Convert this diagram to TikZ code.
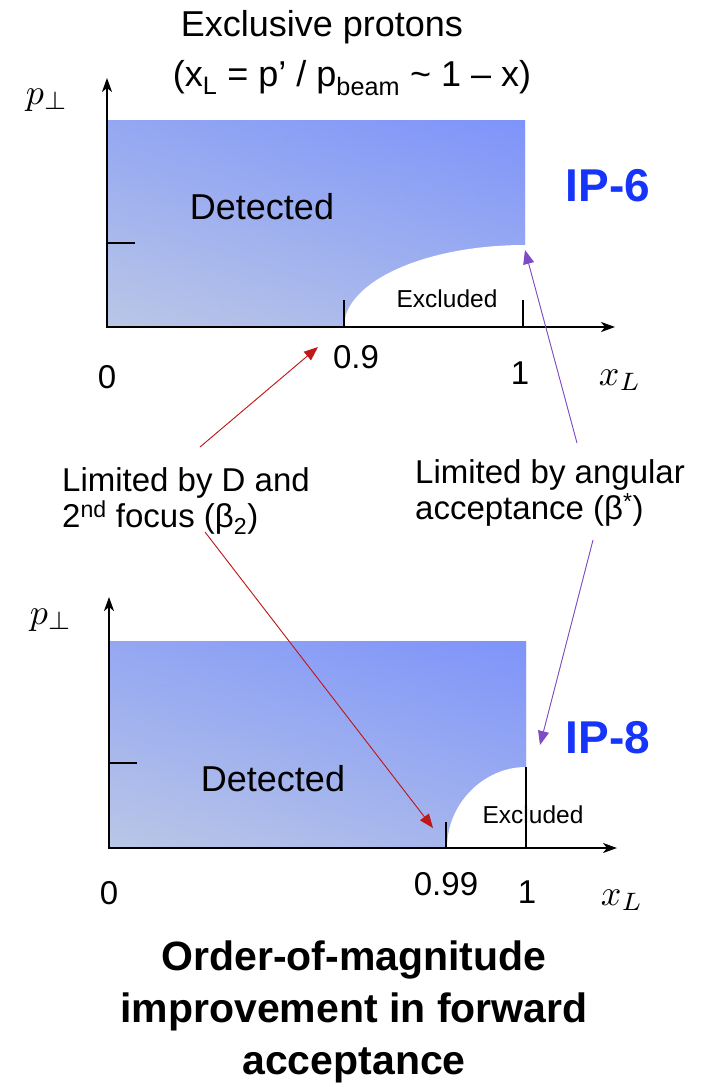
\documentclass[tikz,border=0pt]{standalone}
\usepackage{graphicx}
\usepackage{fontspec}
\setmainfont{Liberation Sans}
\usetikzlibrary{arrows.meta}
\definecolor{ipblue}{RGB}{22,52,250}
\definecolor{fillL}{RGB}{172,188,234}
\definecolor{fillR}{RGB}{126,148,250}
\definecolor{fillT}{RGB}{126,148,250}
\definecolor{fillBt}{RGB}{200,210,228}
\definecolor{redarrow}{RGB}{190,25,25}
\definecolor{purparrow}{RGB}{125,75,195}
\newcommand{\bigmath}[1]{\scalebox{3.6}{$#1$}}
\begin{document}
\begin{tikzpicture}[x=1pt,y=-1pt,
  axisline/.style={line width=2.2pt,-{Stealth[length=14pt,width=10pt,inset=4pt]}},
  tickline/.style={line width=2.8pt},
  regionh/.style={left color=fillL,right color=fillR},
  regionv/.style={top color=fillT,bottom color=fillBt,opacity=0.5},
  hole/.style={fill=white},
  lbl/.style={inner sep=0pt,font=\fontsize{33}{36}\selectfont},
  ttl/.style={inner sep=0pt,font=\fontsize{36}{40}\selectfont},
  num/.style={inner sep=0pt,font=\fontsize{33}{36}\selectfont},
  mth/.style={inner sep=0pt},
  det/.style={inner sep=0pt,font=\fontsize{36}{40}\selectfont},
  excl/.style={inner sep=0pt,font=\fontsize{24.5}{28}\selectfont},
  ip/.style={inner sep=0pt,text=ipblue,font=\fontsize{46}{50}\selectfont\bfseries},
  concl/.style={inner sep=0pt,align=center,font=\fontsize{41}{52}\selectfont\bfseries},
  redarr/.style={draw=redarrow,line width=0.9pt,-{Triangle[length=14pt,width=11pt]},fill=redarrow},
  purarr/.style={draw=purparrow,line width=0.9pt,-{Triangle[length=14pt,width=11pt]},fill=purparrow}
]
\useasboundingbox (0,0) rectangle (707,1087);

% ---------- top plot (IP-6) ----------
\shade[regionh] (107,120) rectangle (525,327);
\shade[regionv] (107,120) rectangle (525,327);
\fill[hole] (344,327) .. controls (344,281.7) and (425,245) .. (525,245) -- (526,245) -- (526,328) -- (344,328) -- cycle;
\coordinate (o1) at (107,327);
\coordinate (ytop1) at (107,78);
\coordinate (xend1) at (615,327);
\draw[axisline] (o1) -- (ytop1);
\draw[axisline] ([xshift=-1.1pt]o1) -- (xend1);
\draw[tickline] (107,243) -- (135,243);
\draw[tickline] (344,300) -- (344,327);
\draw[tickline] (523,300) -- (523,327);

\node[ttl] (title1) at (322,27) {Exclusive protons};
\node[ttl] (title2) at (352,78) {(x\textsubscript{L} = p’ / p\textsubscript{beam} \textasciitilde{} 1 – x)};
\node[mth] (pp1) at (47,100) {\bigmath{p_\perp}};
\node[ip] (ip6) at (608,186) {IP-6};
\node[det] (det1) at (262,207) {Detected};
\node[excl] (ex1) at (447,299) {Excluded};
\node[num] (n09) at (356,357) {0.9};
\node[num] (n0a) at (107,377) {0};
\node[num] (n1a) at (520,373) {1};
\node[mth] (xl1) at (620,380) {\bigmath{x_L}};

% ---------- middle labels ----------
\node[lbl,align=left,anchor=base west] (limD) at (62,527) {Limited by D and\\2\textsuperscript{nd} focus (β\textsubscript{2})};
\node[lbl,align=left,anchor=base west] (limA) at (415,519) {Limited by angular\\acceptance (β\textsuperscript{*})};

% ---------- bottom plot (IP-8) ----------
\shade[regionh] (109,641) rectangle (526,848);
\shade[regionv] (109,641) rectangle (526,848);
\fill[hole] (447,848) .. controls (447,803.3) and (484,767) .. (526,767) -- (527,767) -- (527,849) -- (447,849) -- cycle;
\coordinate (o2) at (109,848);
\coordinate (ytop2) at (109,597);
\coordinate (xend2) at (617,848);
\draw[axisline] (o2) -- (ytop2);
\draw[axisline] ([xshift=-1.1pt]o2) -- (xend2);
\draw[tickline] (109,763) -- (137,763);
\draw[tickline] (446,822) -- (446,848);

\node[mth] (pp2) at (51,620) {\bigmath{p_\perp}};
\node[ip] (ip8) at (608,738) {IP-8};
\node[det] (det2) at (273,779) {Detected};
\node[excl] (ex2) at (533,815) {Excluded};
\draw[tickline] (526,767) -- (526,848);
\node[num] (n099) at (446,884) {0.99};
\node[num] (n0b) at (109,893) {0};
\node[num] (n1b) at (527,892) {1};
\node[mth] (xl2) at (622,900) {\bigmath{x_L}};

% ---------- arrows ----------
\coordinate (r1s) at (200,447);
\coordinate (r1e) at (318,347);
\coordinate (r2s) at (205,532);
\coordinate (r2e) at (433,828);
\coordinate (p1s) at (577,443);
\coordinate (p1e) at (525,250);
\coordinate (p2s) at (593,540);
\coordinate (p2e) at (540,745);
\draw[redarr] (r1s) -- (r1e);
\draw[redarr] (r2s) -- (r2e);
\draw[purarr] (p1s) -- (p1e);
\draw[purarr] (p2s) -- (p2e);

% ---------- conclusion ----------
\node[concl] (conc) at (354,1012) {Order-of-magnitude\\improvement in forward\\acceptance};
\end{tikzpicture}
\end{document}
